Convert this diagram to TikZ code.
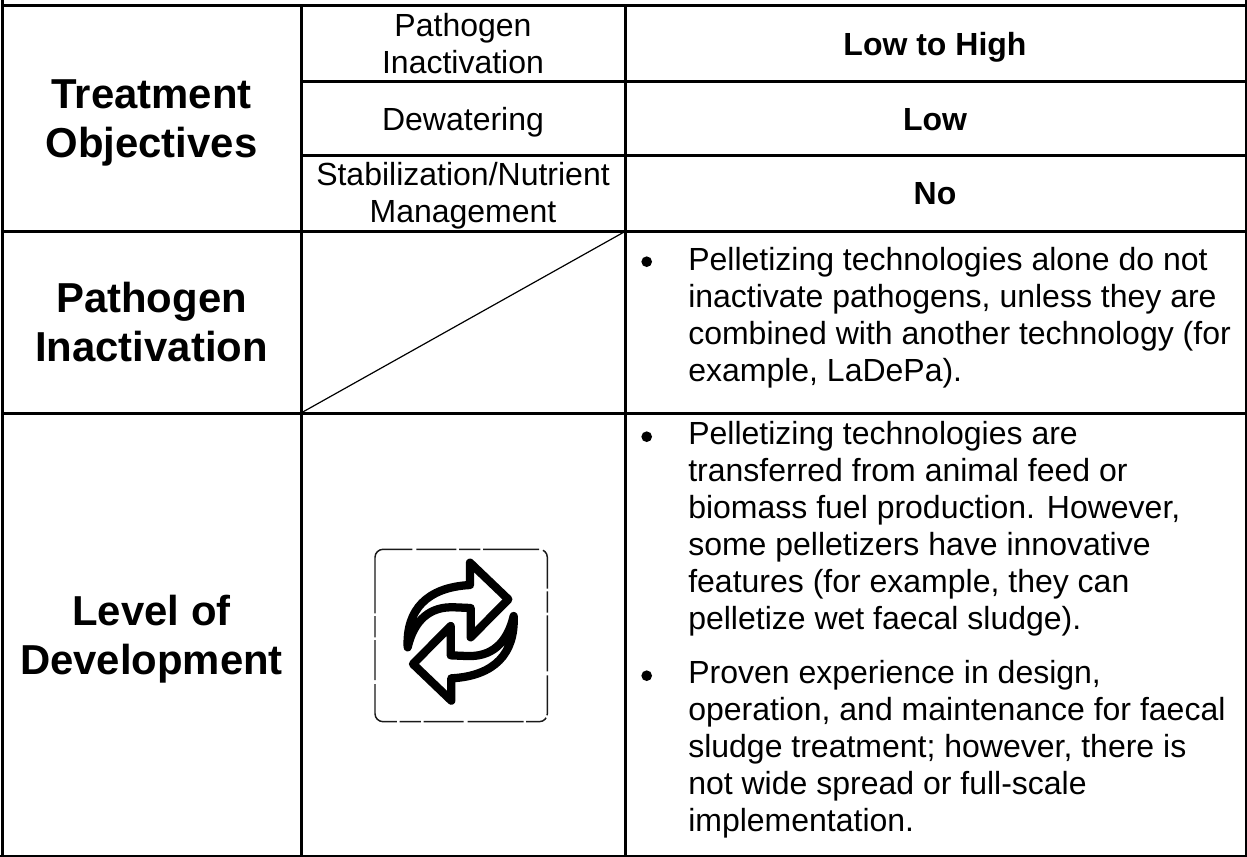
\documentclass[tikz,border=0pt]{standalone}
\usepackage{fontspec}
\setmainfont{Liberation Sans}
\newcommand{\bodyfs}{\fontsize{24}{27.7}\selectfont}
\newcommand{\headfs}{\fontsize{31.4}{36.75}\selectfont\bfseries}
\tikzset{
  rule/.style={line width=2.25pt,black},
  thin rule/.style={line width=.9pt,black},
  head/.style={align=center,inner sep=0pt,anchor=base,font=\headfs},
  cellt/.style={align=center,inner sep=0pt,anchor=base,font=\bodyfs},
  cellb/.style={align=center,inner sep=0pt,anchor=base,font=\bodyfs\bfseries},
  para/.style={anchor=base west,align=left,inner sep=0pt,font=\bodyfs},
  bullet/.style={circle,fill=black,inner sep=0pt,minimum size=8pt},
  iconline/.style={line width=6.2pt,line cap=round,line join=round},
  iconframe/.style={line width=1.1pt,black!90,dash pattern=on 42pt off 2pt on 16pt off 2pt on 30pt off 3pt,rounded corners=6pt},
}
\begin{document}
\begin{tikzpicture}[x=.75pt,y=-.75pt]
\useasboundingbox (0,0) rectangle (1247,857);
\coordinate (tl) at (2,5.5);
\coordinate (tr) at (1246.5,5.5);
% table rules
\draw[rule] (2,0) -- (2,856);
\draw[rule] (1246.5,0) -- (1246.5,856);
\draw[rule] (301,5.5) -- (301,856);
\draw[rule] (625,5.5) -- (625,856);
\draw[rule] (tl) -- (tr);
\draw[rule] (301,81) -- (1246.5,81);
\draw[rule] (301,155) -- (1246.5,155);
\draw[rule] (2,231.5) -- (1246.5,231.5);
\draw[rule] (2,413) -- (1246.5,413);
\draw[rule] (0,856) -- (1247,856);
\coordinate (dA) at (301,413);
\coordinate (dB) at (625,231.5);
\draw[thin rule] (dA) -- (dB);
% row heads (anchor: last baseline)
\node[head] (h1) at (151.5,157) {Treatment\\Objectives};
\node[head] (h2) at (151.5,361.7) {Pathogen\\Inactivation};
\node[head] (h3) at (151.5,674) {Level of\\Development};
% objective cells
\node[cellt] (c1) at (463,73) {Pathogen\\Inactivation};
\node[cellt] (c2) at (463,130) {Dewatering};
\node[cellt] (c3) at (463,222.7) {Stabilization/Nutrient\\Management};
\node[cellb] (v1) at (935,55) {Low to High};
\node[cellb] (v2) at (935,130) {Low};
\node[cellb] (v3) at (935,204) {No};
% bullet paragraphs
\node[bullet] (b1) at (646.7,261.7) {};
\node[para] (p1) at (688,381.7) {Pelletizing technologies alone do not\\inactivate pathogens, unless they are\\combined with another technology (for\\example, LaDePa).};
\node[bullet] (b2) at (646.7,436.7) {};
\node[para] (p2) at (688,629.3) {Pelletizing technologies are\\transferred from animal feed or\\biomass fuel production. However,\\some pelletizers have innovative\\features (for example, they can\\pelletize wet faecal sludge).};
\node[bullet] (b3) at (646.7,675.7) {};
\node[para] (p3) at (688,831.7) {Proven experience in design,\\operation, and maintenance for faecal\\sludge treatment; however, there is\\not wide spread or full-scale\\implementation.};
% icon (drawn in zoom coordinates)
\begin{scope}[shift={(340,510)},scale=1/3]
  \draw[iconframe] (105,118) rectangle (622,635);
  \foreach \r in {0,180}{
    \begin{scope}[rotate around={\r:(362,365)}]
      \draw[iconline] (203,412)
        .. controls (198,300) and (260,232) .. (390,225)
        -- (390,158) -- (505,268) -- (392,382) -- (392,294)
        -- (345,292) .. controls (270,288) and (222,330) .. (203,412);
    \end{scope}
  }
\end{scope}
\end{tikzpicture}
\end{document}
